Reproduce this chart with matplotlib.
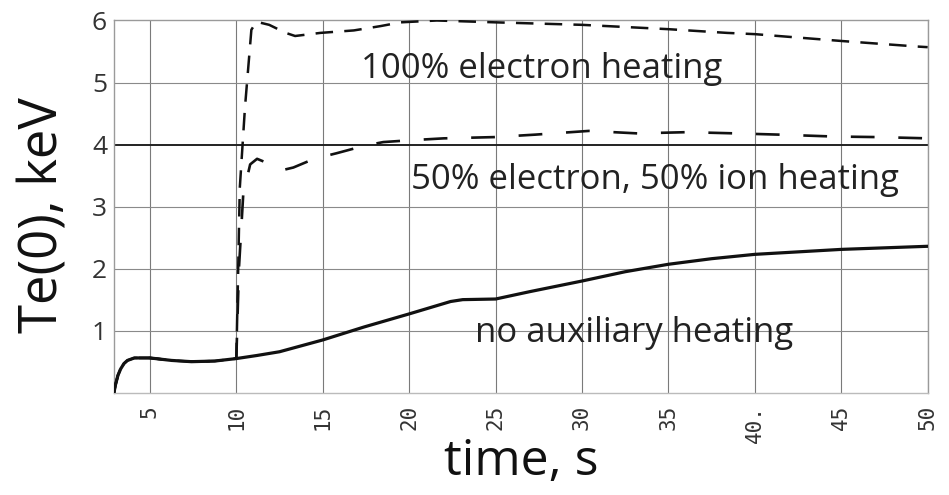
import numpy as np
import matplotlib.pyplot as plt

# central electron temperature vs time, three heating scenarios
t_ohmic = [2.92, 3.0, 3.15, 3.3, 3.5, 3.7, 4.1, 5.0, 6.25, 7.4, 8.75, 10.0, 11.2,
           12.5, 15.0, 17.4, 20.0, 22.4, 23.1, 25.0, 27.0, 30.0, 32.5, 35.0,
           37.5, 40.0, 45.0, 50.0]
te_ohmic = [0.0, 0.12, 0.28, 0.38, 0.47, 0.52, 0.56, 0.56, 0.52, 0.50, 0.51, 0.55,
            0.60, 0.66, 0.85, 1.06, 1.27, 1.47, 1.50, 1.51, 1.63, 1.80, 1.95,
            2.07, 2.16, 2.23, 2.31, 2.36]

t_elec = [2.92, 3.0, 3.15, 3.3, 3.5, 3.7, 4.1, 5.0, 6.25, 7.4, 8.75, 10.0, 10.1,
          10.2, 10.5, 10.87, 11.16, 11.9, 12.86, 13.4, 14.86, 16.8, 18.35, 19.5,
          21.6, 25.0, 30.0, 35.0, 38.4, 40.0, 45.0, 49.4, 50.0]
te_elec = [0.0, 0.12, 0.28, 0.38, 0.47, 0.52, 0.56, 0.56, 0.52, 0.50, 0.51, 0.55,
           1.9, 3.3, 4.6, 5.85, 5.98, 5.93, 5.80, 5.75, 5.80, 5.84, 5.91, 5.97,
           6.0, 5.97, 5.93, 5.86, 5.80, 5.78, 5.67, 5.58, 5.57]

t_mixed = [2.92, 3.0, 3.15, 3.3, 3.5, 3.7, 4.1, 5.0, 6.25, 7.4, 8.75, 10.0, 10.15,
           10.4, 10.8, 11.2, 11.9, 12.7, 13.3, 14.5, 15.8, 17.4, 18.5, 20.1, 22.0,
           24.9, 27.3, 30.4, 33.2, 36.1, 38.9, 41.4, 44.5, 47.2, 50.0]
te_mixed = [0.0, 0.12, 0.28, 0.38, 0.47, 0.52, 0.56, 0.56, 0.52, 0.50, 0.51, 0.55,
            2.0, 3.2, 3.68, 3.77, 3.69, 3.59, 3.63, 3.77, 3.86, 3.98, 4.04, 4.07,
            4.10, 4.12, 4.16, 4.22, 4.18, 4.20, 4.18, 4.16, 4.13, 4.12, 4.10]

xticks = [5, 10, 15, 20, 25, 30, 35, 40, 45, 50]
xtick_labels = ['5', '10', '15', '20', '25', '30', '35', '40.', '45', '50']
yticks = [1, 2, 3, 4, 5, 6]

fig = plt.figure(figsize=(9.49, 4.95), dpi=100)
ax = fig.add_axes([0.1201, 0.2067, 0.8574, 0.7519])

# grid
for x in xticks:
    ax.axvline(x, color='#7a7a7a', lw=0.8, zorder=1)
for y in yticks[:-1]:
    ax.axhline(y, color='#222222' if y == 4 else '#8a8a8a',
               lw=1.4 if y == 4 else 0.8, zorder=1)

ax.plot(t_elec, te_elec, color='#111111', lw=1.8, ls=(0, (7, 4.5)), zorder=3)
ax.plot(t_mixed, te_mixed, color='#111111', lw=1.9, ls=(0, (9, 9)), zorder=3)
ax.plot(t_ohmic, te_ohmic, color='#111111', lw=2.3, zorder=4)

ax.set_xlim(2.92, 50)
ax.set_ylim(0, 6)

for s in ax.spines.values():
    s.set_color('#9a9a9a')
    s.set_linewidth(1.0)
ax.spines['bottom'].set_color('#bbbbbb')

ax.set_xticks(xticks)
ax.set_xticklabels(xtick_labels, rotation=90, family='DejaVu Sans Mono',
                   fontsize=15, color='#333333', va='top', ha='center')
ax.set_yticks(yticks)
ax.set_yticklabels([str(v) for v in yticks], family='Open Sans',
                   fontsize=19, color='#333333')
ax.tick_params(axis='x', length=0, pad=9)
ax.tick_params(axis='y', length=0, pad=5)

ax.text(17.2, 5.07, '100% electron heating', family='Open Sans',
        fontsize=25, color='#222222', ha='left', va='baseline', zorder=2)
ax.text(20.1, 3.28, '50% electron, 50% ion heating', family='Open Sans',
        fontsize=25, color='#222222', ha='left', va='baseline', zorder=2)
ax.text(23.8, 0.815, 'no auxiliary heating', family='Open Sans',
        fontsize=25, color='#222222', ha='left', va='baseline', zorder=2)

fig.text(0.0464, 0.566, 'Te(0), keV', family='Open Sans', fontsize=38,
         color='#111111', rotation=90, ha='center', va='center')
fig.text(0.549, 0.066, 'time, s', family='Open Sans', fontsize=36,
         color='#111111', ha='center', va='center')

fig.savefig('out.png', dpi=100, facecolor='white')
